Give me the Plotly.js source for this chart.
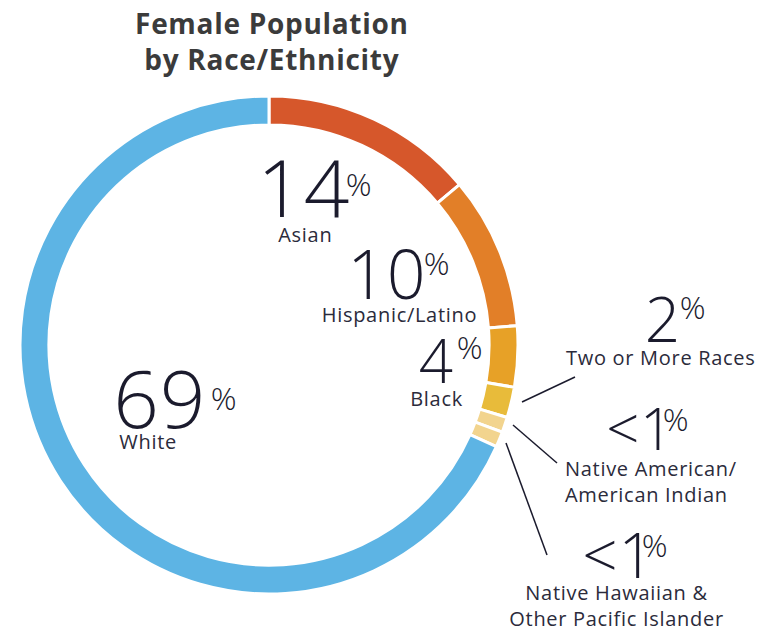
<!DOCTYPE html>
<html>
<head>
<meta charset="utf-8">
<script src="https://cdn.plot.ly/plotly-3.0.1.min.js"></script>
<style>
html,body{margin:0;padding:0;background:#fff;}
#chart{width:770px;height:633px;}
#chart .annotation-text{letter-spacing:0.7px;}
</style>
</head>
<body>
<div id="chart"></div>
<script>
// Data
const categories = ["Asian", "Hispanic/Latino", "Black", "Two or More Races", "Native American/<br>American Indian", "Native Hawaiian &<br>Other Pacific Islander", "White"];
const values = [14, 10, 4, 2, 1, 1, 69];
const pctLabels = ["14", "10", "4", "2", "<1", "<1", "69"];
const colors = ["#d6572b", "#e27f28", "#e7a127", "#e8bb3a", "#f2d48e", "#f2d48e", "#5db4e4"];

const W = 770, H = 633;
const px = x => x / W;
const py = y => 1 - y / H;

const numColor = "#1b1b2d";
const labColor = "#2b2b3b";
const FONT = "Open Sans, sans-serif";

// label placement (pixels): [numX, numY, numSize, pctX, pctY, labX, labY, labAnchor]
const place = [
  [303, 186, 80, 359, 183, 305, 234, "center"],
  [387, 272, 68, 437, 262, 400, 314, "center"],
  [436, 360, 60, 470, 346, 437, 398, "center"],
  [662, 318, 62, 693, 306, 661, 357, "center"],
  [640, 428, 58, 676, 418, 563, 481, "left"],
  [618, 554, 62, 655, 544, 616, 605, "center"],
  [159, 396, 80, 224, 397, 148, 441, "center"]
];

const annotations = [];
pctLabels.forEach((p, i) => {
  const c = place[i];
  const safe = p.replace("<", "&lt;");
  annotations.push({xref:"paper", yref:"paper", x:px(c[0]), y:py(c[1]), text:safe, showarrow:false,
    xanchor:"center", yanchor:"middle", font:{family:FONT, size:c[2], color:numColor, weight:300}});
  annotations.push({xref:"paper", yref:"paper", x:px(c[3]), y:py(c[4]), text:"%", showarrow:false,
    xanchor:"center", yanchor:"middle", font:{family:FONT, size:32, color:numColor, weight:300}});
  annotations.push({xref:"paper", yref:"paper", x:px(c[5]), y:py(c[6]), text:categories[i], showarrow:false,
    xanchor:c[7], yanchor:"middle", align:c[7], font:{family:FONT, size:20, color:labColor}});
});

// Title
annotations.push({xref:"paper", yref:"paper", x:px(272), y:py(41), text:"Female Population<br>by Race/Ethnicity",
  showarrow:false, xanchor:"center", yanchor:"middle", align:"center",
  font:{family:FONT, size:28, color:"#3b3b3b", weight:700}});

const lineStyle = {color:"#1b1b2d", width:1.5};
const shapes = [
  {type:"line", xref:"paper", yref:"paper", x0:px(522), y0:py(402), x1:px(575), y1:py(377), line:lineStyle},
  {type:"line", xref:"paper", yref:"paper", x0:px(513), y0:py(425), x1:px(557), y1:py(463), line:lineStyle},
  {type:"line", xref:"paper", yref:"paper", x0:px(506), y0:py(443), x1:px(547), y1:py(555), line:lineStyle}
];

const trace = {
  type:"pie",
  labels: categories,
  values: values,
  marker:{colors: colors, line:{color:"#ffffff", width:3}},
  hole: 0.884,
  sort:false,
  direction:"clockwise",
  rotation:0,
  textinfo:"none",
  hoverinfo:"none",
  showlegend:false,
  domain:{x:[20/W, 518/W], y:[1-594/H, 1-96/H]}
};

const layout = {
  width:W, height:H,
  margin:{l:0, r:0, t:0, b:0},
  paper_bgcolor:"#ffffff",
  showlegend:false,
  annotations: annotations,
  shapes: shapes
};

Plotly.newPlot("chart", [trace], layout, {displayModeBar:false, staticPlot:true});
</script>
</body>
</html>
